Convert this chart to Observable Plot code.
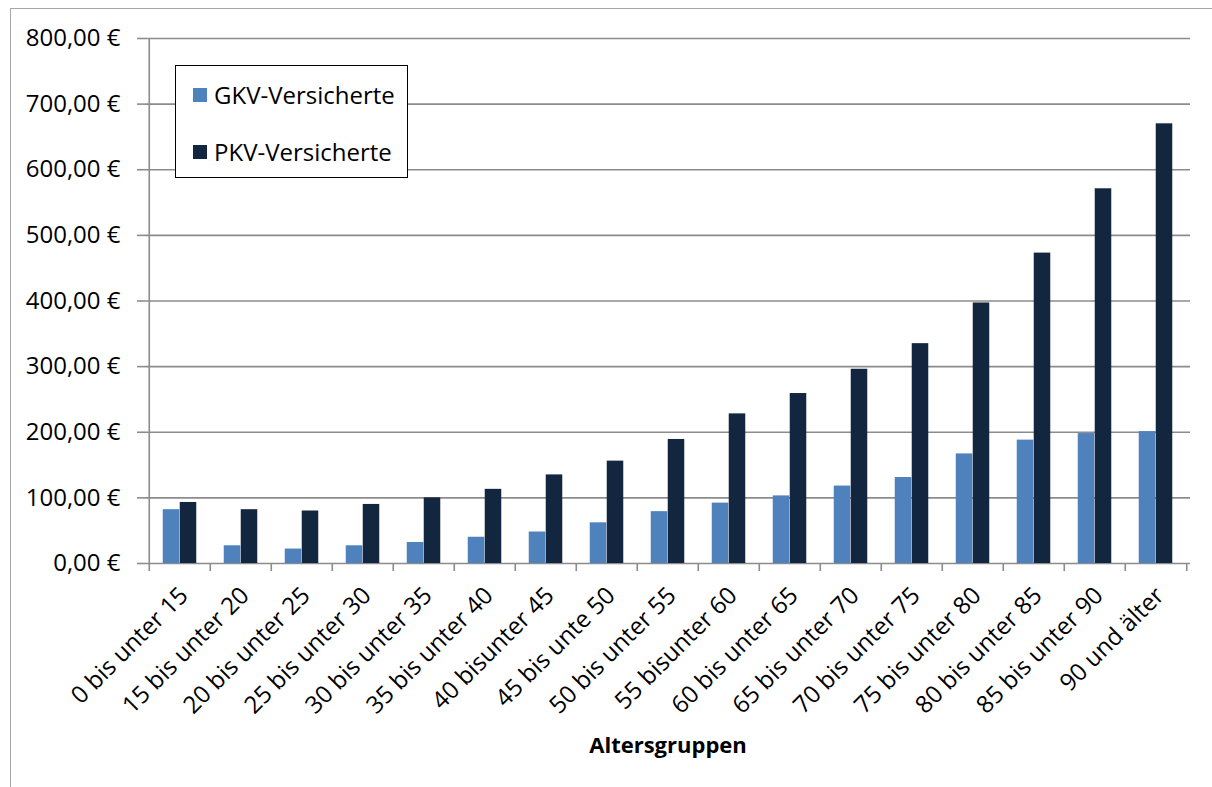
<!DOCTYPE html>
<html>
<head>
<meta charset="utf-8">
<script src="https://cdn.jsdelivr.net/npm/d3@7"></script>
<script src="https://cdn.jsdelivr.net/npm/@observablehq/plot@0.6"></script>
<style>
  html, body { margin: 0; padding: 0; background: #fff; overflow: hidden; }
  #wrap { position: relative; width: 1212px; height: 787px; overflow: hidden; font-family: "Open Sans", sans-serif; }
  #border { position: absolute; left: 10px; top: 8px; width: 1400px; height: 1000px; border: 1.5px solid #a6a6a6; box-sizing: border-box; pointer-events: none; }
  #chart { position: absolute; left: 0; top: 0; }
  #legend { position: absolute; left: 175px; top: 65px; width: 233px; height: 113px; box-sizing: border-box; border: 1.5px solid #000; background: #fff; }
  .item { position: absolute; left: 17px; display: flex; align-items: center; font-size: 24px; color: #000; white-space: nowrap; }
  .sw { width: 14px; height: 14px; margin-right: 7px; }
</style>
</head>
<body>
<div id="wrap">
  <div id="chart"></div>
  <div id="border"></div>
  <div id="legend"></div>
</div>
<script>
const categories = ["0 bis unter 15","15 bis unter 20","20 bis unter 25","25 bis unter 30","30 bis unter 35","35 bis unter 40","40 bisunter 45","45 bis unte 50","50 bis unter 55","55 bisunter 60","60 bis unter 65","65 bis unter 70","70 bis unter 75","75 bis unter 80","80 bis unter 85","85 bis unter 90","90 und älter"];
const gkv = [82, 27, 22, 27, 32, 40, 48, 62, 79, 92, 103, 118, 131, 167, 188, 198, 201];
const pkv = [93, 82, 80, 90, 100, 113, 135, 156, 189, 228, 259, 296, 335, 397, 473, 571, 670];
const yTicks = [0, 100, 200, 300, 400, 500, 600, 700, 800];
const seriesNames = ["GKV-Versicherte", "PKV-Versicherte"];
const seriesColors = ["#4F81BD", "#12263F"];

const W = 1212, H = 787, ML = 145, MR = 22, MT = 38, MB = 224;
const data = categories.map((c, i) => ({cat: c, gkv: gkv[i], pkv: pkv[i]}));
const step = (W - ML - MR) / categories.length;
const bw = step * 0.2765;
const outer = (step - 2 * bw) / 2;
const fmt = v => v.toFixed(2).replace(".", ",") + " €";
const grid = "#8c8c8c";

const chart = Plot.plot({
  width: W, height: H,
  marginLeft: ML, marginRight: MR, marginTop: MT, marginBottom: MB,
  style: {fontFamily: "Open Sans, sans-serif", fontSize: "24px", color: "#000", background: "transparent"},
  x: {domain: categories, padding: 0},
  y: {domain: [0, 800]},
  marks: [
    Plot.gridY(yTicks, {stroke: grid, strokeOpacity: 1, strokeWidth: 1.6}),
    Plot.ruleX([categories[0]], {dx: -step / 2, stroke: grid, strokeWidth: 1.6}),
    Plot.barY(data, {x: "cat", y: "gkv", fill: seriesColors[0], insetLeft: outer, insetRight: step - outer - bw}),
    Plot.barY(data, {x: "cat", y: "pkv", fill: seriesColors[1], insetLeft: outer + bw, insetRight: outer}),
    Plot.axisY(yTicks, {tickSize: 8, tickPadding: 17, tickFormat: fmt, stroke: grid, strokeWidth: 1.6, fontSize: 24, label: null}),
    Plot.axisX({tickSize: 8, dx: -step / 2, tickFormat: () => "", stroke: grid, strokeWidth: 1.6, label: null}),
    Plot.axisX([categories[categories.length - 1]], {tickSize: 8, dx: step / 2, tickFormat: () => "", stroke: grid, strokeWidth: 1.6, label: null}),
    Plot.axisX({tickSize: 0, tickRotate: -45, tickPadding: 28, dx: 4, fontSize: 24, label: null}),
    Plot.text(["Altersgruppen"], {frameAnchor: "bottom", dy: 189, fontWeight: "bold", fontSize: 22, fill: "#000"})
  ]
});
document.getElementById("chart").appendChild(chart);

const legend = document.getElementById("legend");
seriesNames.forEach((name, i) => {
  const it = document.createElement("div");
  it.className = "item";
  it.style.top = (i === 0 ? 12 : 69) + "px";
  it.innerHTML = `<div class="sw" style="background:${seriesColors[i]}"></div><span>${name}</span>`;
  legend.appendChild(it);
});
</script>
</body>
</html>
